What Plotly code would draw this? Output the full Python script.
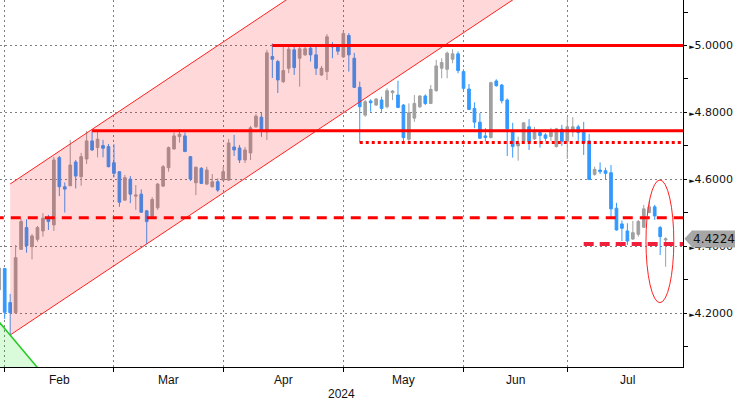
import pandas as pd
import plotly.graph_objects as go

# bond market holidays dropped from the time axis
holidays = ["2024-02-19", "2024-03-29", "2024-05-27", "2024-06-19", "2024-07-04"]
trading_days = [d.strftime("%Y-%m-%d") for d in pd.bdate_range("2024-01-31", "2024-07-31")
                if d.strftime("%Y-%m-%d") not in holidays]

open_ = [4.270, 4.334, 4.232, 4.202, 4.391, 4.456, 4.399, 4.421, 4.446, 4.482,
         4.464, 4.665, 4.578, 4.581, 4.652, 4.608, 4.661, 4.715, 4.695, 4.701,
         4.698, 4.650, 4.623, 4.538, 4.601, 4.550, 4.556, 4.506, 4.486, 4.515,
         4.580, 4.635, 4.691, 4.728, 4.730, 4.668, 4.590, 4.633, 4.586, 4.578,
         4.593, 4.598, 4.598, 4.697, 4.694, 4.658, 4.679, 4.757, 4.786, 4.742,
         4.967, 4.952, 4.892, 4.932, 4.987, 4.962, 4.972, 4.992, 4.972, 4.912,
         4.922, 5.002, 4.996, 4.966, 5.030, 4.962, 4.875, 4.792, 4.834, 4.822,
         4.837, 4.817, 4.859, 4.852, 4.822, 4.720, 4.783, 4.817, 4.849, 4.827,
         4.865, 4.932, 4.929, 4.959, 4.975, 4.922, 4.870, 4.812, 4.771, 4.730,
         4.725, 4.894, 4.882, 4.837, 4.743, 4.700, 4.715, 4.757, 4.721, 4.740,
         4.733, 4.728, 4.698, 4.750, 4.714, 4.742, 4.757, 4.745, 4.715, 4.615,
         4.628, 4.626, 4.620, 4.514, 4.467, 4.446, 4.422, 4.436, 4.457, 4.501,
         4.518, 4.456, 4.419]

high = [4.353, 4.335, 4.258, 4.404, 4.482, 4.481, 4.437, 4.461, 4.499, 4.494,
        4.667, 4.670, 4.591, 4.718, 4.658, 4.679, 4.745, 4.746, 4.743, 4.718,
        4.706, 4.705, 4.625, 4.613, 4.610, 4.583, 4.570, 4.509, 4.547, 4.589,
        4.643, 4.698, 4.740, 4.750, 4.740, 4.670, 4.639, 4.637, 4.638, 4.616,
        4.603, 4.637, 4.721, 4.733, 4.703, 4.697, 4.760, 4.795, 4.801, 4.987,
        5.006, 4.957, 4.996, 4.996, 4.996, 4.996, 5.002, 4.996, 4.996, 4.939,
        5.034, 5.010, 5.004, 5.045, 5.037, 4.978, 4.892, 4.837, 4.839, 4.843,
        4.847, 4.872, 4.867, 4.895, 4.825, 4.827, 4.852, 4.852, 4.854, 4.882,
        4.957, 4.962, 4.982, 4.989, 4.982, 4.929, 4.885, 4.830, 4.798, 4.753,
        4.892, 4.899, 4.885, 4.842, 4.769, 4.728, 4.771, 4.780, 4.757, 4.748,
        4.738, 4.754, 4.754, 4.763, 4.786, 4.786, 4.763, 4.772, 4.736, 4.638,
        4.651, 4.635, 4.643, 4.530, 4.477, 4.469, 4.476, 4.479, 4.524, 4.535,
        4.524, 4.461, 4.427]

low = [4.261, 4.183, 4.135, 4.200, 4.390, 4.381, 4.361, 4.414, 4.429, 4.449,
       4.446, 4.550, 4.501, 4.580, 4.573, 4.581, 4.646, 4.685, 4.666, 4.666,
       4.636, 4.606, 4.518, 4.537, 4.529, 4.509, 4.500, 4.407, 4.485, 4.509,
       4.577, 4.623, 4.689, 4.710, 4.682, 4.595, 4.553, 4.586, 4.583, 4.576,
       4.563, 4.597, 4.595, 4.670, 4.649, 4.649, 4.658, 4.754, 4.727, 4.718,
       4.903, 4.858, 4.888, 4.917, 4.912, 4.877, 4.969, 4.952, 4.912, 4.909,
       4.897, 4.962, 4.972, 4.963, 4.922, 4.873, 4.710, 4.787, 4.802, 4.819,
       4.802, 4.812, 4.837, 4.813, 4.711, 4.711, 4.772, 4.813, 4.822, 4.825,
       4.862, 4.902, 4.902, 4.947, 4.917, 4.862, 4.807, 4.753, 4.721, 4.714,
       4.722, 4.877, 4.827, 4.670, 4.665, 4.656, 4.706, 4.688, 4.718, 4.695,
       4.715, 4.715, 4.695, 4.700, 4.661, 4.727, 4.714, 4.673, 4.598, 4.611,
       4.616, 4.600, 4.487, 4.447, 4.416, 4.404, 4.419, 4.429, 4.455, 4.499,
       4.479, 4.374, 4.339]

close = [4.335, 4.203, 4.202, 4.366, 4.474, 4.402, 4.431, 4.456, 4.484, 4.474,
         4.658, 4.578, 4.571, 4.643, 4.610, 4.668, 4.715, 4.688, 4.720, 4.693,
         4.638, 4.618, 4.532, 4.605, 4.556, 4.553, 4.502, 4.474, 4.540, 4.586,
         4.638, 4.695, 4.730, 4.735, 4.683, 4.601, 4.636, 4.588, 4.628, 4.593,
         4.568, 4.623, 4.709, 4.688, 4.658, 4.688, 4.754, 4.789, 4.745, 4.978,
         4.959, 4.897, 4.925, 4.989, 4.934, 4.990, 4.990, 4.972, 4.932, 4.932,
         5.026, 4.996, 4.983, 5.036, 4.972, 4.875, 4.817, 4.832, 4.829, 4.840,
         4.812, 4.865, 4.864, 4.815, 4.725, 4.799, 4.827, 4.849, 4.827, 4.869,
         4.939, 4.949, 4.977, 4.975, 4.925, 4.872, 4.809, 4.771, 4.723, 4.725,
         4.889, 4.880, 4.835, 4.751, 4.698, 4.708, 4.769, 4.713, 4.740, 4.731,
         4.723, 4.745, 4.751, 4.714, 4.757, 4.757, 4.740, 4.709, 4.600, 4.630,
         4.623, 4.618, 4.512, 4.449, 4.454, 4.416, 4.441, 4.474, 4.512, 4.518,
         4.491, 4.429, 4.4224]

dates = trading_days[:len(close)]
last_price = close[-1]

month_labels = ["Feb", "Mar", "Apr", "May", "Jun", "Jul"]
y_ticks = [4.2, 4.4, 4.6, 4.8, 5.0]
y_minor = [4.1, 4.3, 4.5, 4.7, 4.9, 5.1]

# support / resistance levels: (value, start index, style)
levels = [
    (5.000, 50, dict(color="#ff0000", width=3)),
    (4.7455, 17, dict(color="#ff0000", width=3)),
    (4.710, 66, dict(color="#ff0000", width=3, dash="3px,3px")),
    (4.4855, -1, dict(color="#ff0000", width=3, dash="10px,7px")),
    (4.407, 107, dict(color="#f0203c", width=4, dash="10px,6px")),
]

X_RANGE = [0.14, 125.18]
Y_RANGE = [4.0396, 5.1359]

# month positions on the trading-day axis
months = [d[:7] for d in trading_days]
month_keys = sorted(set(months))[1:]
month_start = [trading_days[months.index(m)] for m in month_keys]
month_mid = [(months.index(m) + len(months) - months[::-1].index(m)) / 2 for m in month_keys]

fig = go.Figure()

fig.add_trace(go.Candlestick(
    x=dates, open=open_, high=high, low=low, close=close,
    increasing=dict(line=dict(color="#a0a0a0", width=1), fillcolor="#a0a0a0"),
    decreasing=dict(line=dict(color="#3399ff", width=1), fillcolor="#3399ff"),
    whiskerwidth=0, hoverinfo="skip", name="Price"
))

shapes = []

# rising channel
c0, c_low, c_h, c_slope, c1 = 2, 4.1352, 0.4511, 0.01088, 112
shapes.append(dict(type="path", xref="x", yref="y", layer="above", line=dict(width=0),
                   fillcolor="rgba(255,0,0,0.15)",
                   path=f"M {c0},{c_low} L {c1},{c_low + (c1 - c0) * c_slope} "
                        f"L {c1},{c_low + c_h + (c1 - c0) * c_slope} L {c0},{c_low + c_h} Z"))
for off in (0, c_h):
    shapes.append(dict(type="line", xref="x", yref="y", layer="above",
                       x0=c0, y0=c_low + off, x1=c1, y1=c_low + off + (c1 - c0) * c_slope,
                       line=dict(color="#ff2020", width=1)))

# falling green channel edge, bottom left
g_slope = 0.01942
shapes.append(dict(type="path", xref="x", yref="y", layer="above", line=dict(width=0),
                   fillcolor="rgba(0,230,0,0.15)",
                   path=f"M -2,{4.171 + 2.14 * g_slope} L 8,{4.171 - 7.86 * g_slope} L 8,3.9 L -2,3.9 Z"))
shapes.append(dict(type="line", xref="x", yref="y", layer="above",
                   x0=-2, y0=4.171 + 2.14 * g_slope, x1=8, y1=4.171 - 7.86 * g_slope,
                   line=dict(color="#22cc22", width=1.5)))

for val, start, style in levels:
    shapes.append(dict(type="line", xref="x", yref="y", layer="above",
                       x0=start, x1=X_RANGE[1], y0=val, y1=val, line=style))

# ellipse around the latest candles
shapes.append(dict(type="circle", xref="x", yref="y", layer="above",
                   x0=118.4, x1=123.5, y0=4.2317, y1=4.5982,
                   line=dict(color="#ff2020", width=1)))

# last price marker tip
shapes.append(dict(type="path", xref="paper", yref="y", layer="above", line=dict(width=0),
                   fillcolor="#a6a6a6",
                   path=f"M 1.002,{last_price} L 1.013,{last_price + 0.024} "
                        f"L 1.013,{last_price - 0.024} Z"))

annotations = [dict(x=m, y=0, xref="x", yref="paper", yanchor="top", yshift=-4,
                    text=lab, showarrow=False,
                    font=dict(family="Liberation Sans Narrow, Arial Narrow, sans-serif",
                              size=12, color="#111"))
               for m, lab in zip(month_mid, month_labels)]
annotations.append(dict(x=0.5, y=0, xref="paper", yref="paper", yanchor="top", yshift=-18,
                        text="2024", showarrow=False,
                        font=dict(family="Liberation Sans Narrow, Arial Narrow, sans-serif",
                                  size=12, color="#111")))
annotations.append(dict(x=1.012, y=last_price, xref="paper", yref="y", xanchor="left",
                        text=f"{last_price:.4f}", showarrow=False, bgcolor="#a6a6a6",
                        borderpad=1,
                        font=dict(family="DejaVu Sans", size=12, color="#111")))

fig.update_layout(
    width=735, height=400,
    margin=dict(l=0, r=52, t=0, b=33),
    plot_bgcolor="white", paper_bgcolor="white",
    showlegend=False, hovermode=False,
    shapes=shapes, annotations=annotations,
    font=dict(family="DejaVu Sans", size=11, color="#111"),
)

fig.update_xaxes(
    type="category", range=X_RANGE, rangeslider_visible=False,
    tickvals=month_start, ticktext=[""] * len(month_start),
    ticks="outside", ticklen=4, tickcolor="black",
    showgrid=True, gridcolor="#808080", griddash="2px,3px", gridwidth=1,
    showline=True, linecolor="black", linewidth=1, zeroline=False,
)

fig.update_yaxes(
    side="right", range=Y_RANGE,
    tickvals=y_ticks,
    ticktext=[f'<span style="font-size:7px">►</span>{v:.4f}' for v in y_ticks],
    ticks="outside", ticklen=3, tickcolor="black",
    minor=dict(tickvals=y_minor, ticks="outside", ticklen=4, tickcolor="black", showgrid=False),
    showgrid=True, gridcolor="#808080", griddash="2px,3px", gridwidth=1,
    showline=True, linecolor="black", linewidth=1, zeroline=False,
    tickfont=dict(family="DejaVu Sans", size=11, color="#111"),
)

fig.write_html("out.html", config={"displayModeBar": False},
               post_script="document.body.style.margin='0';")
